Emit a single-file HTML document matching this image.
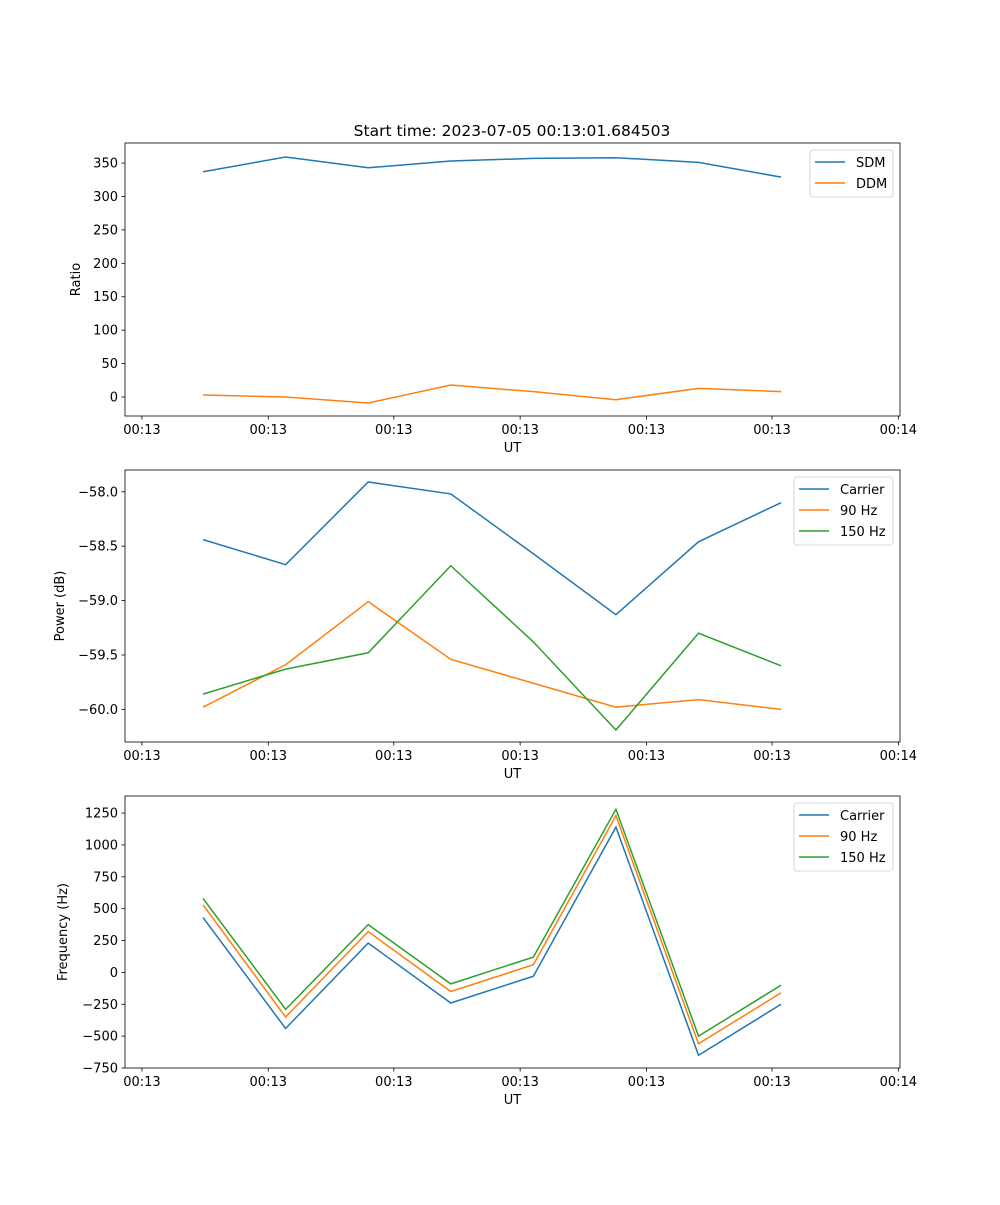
<!DOCTYPE html>
<html><head><meta charset="utf-8"><style>
body{margin:0;background:#fff}
svg text{font-family:"DejaVu Sans","Liberation Sans",sans-serif;font-size:13px;fill:#000}
</style></head><body>
<svg id="c" width="1000" height="1200" xmlns="http://www.w3.org/2000/svg">
<text x="512" y="136" text-anchor="middle" style="font-size:15.5px">Start time: 2023-07-05 00:13:01.684503</text>
</svg>
<script>
const pointIdx=[0,1,2,3,4,5,6,7];
const xTickPos=[-0.74,0.79,2.31,3.84,5.37,6.89,8.42];
const xTickLabels=["00:13","00:13","00:13","00:13","00:13","00:13","00:14"];
const sdm=[337,359,343,353,357,358,351,329];
const ddm=[3,0,-9,18,8,-4,13,8];
const powCarrier=[-58.44,-58.67,-57.91,-58.02,-58.57,-59.13,-58.46,-58.10];
const pow90=[-59.98,-59.59,-59.01,-59.54,-59.76,-59.98,-59.91,-60.00];
const pow150=[-59.86,-59.63,-59.48,-58.68,-59.38,-60.19,-59.30,-59.60];
const freqCarrier=[430,-440,230,-240,-30,1140,-650,-250];
const freq90=[530,-350,320,-150,60,1230,-560,-160];
const freq150=[580,-290,375,-90,120,1280,-500,-100];
const ticks1=[0,50,100,150,200,250,300,350];
const ticks2=[-60.0,-59.5,-59.0,-58.5,-58.0];
const ticks3=[-750,-500,-250,0,250,500,750,1000,1250];

const NS="http://www.w3.org/2000/svg";
const svg=document.getElementById('c');
function mk(tag,attrs,parent){const e=document.createElementNS(NS,tag);for(const k in attrs)e.setAttribute(k,attrs[k]);(parent||svg).appendChild(e);return e;}
const C=["#1f77b4","#ff7f0e","#2ca02c"];
const L=125,R=900,xmin=-0.945,xmax=8.44;
const xs=v=>L+(v-xmin)/(xmax-xmin)*(R-L);
function panel(name,top,bot,ymin,ymax,yt,fmt,ylabel,series,names,legW){
  const g=mk('g',{});
  
  
  const ys=v=>bot-(v-ymin)/(ymax-ymin)*(bot-top);
  series.forEach((s,k)=>{
    const p=mk('polyline',{points:s.map((v,i)=>xs(pointIdx[i])+','+ys(v)).join(' '),fill:'none',stroke:C[k],'stroke-width':1.5},g);
    
    
  });
  const fr=mk('rect',{x:L,y:top,width:R-L,height:bot-top,fill:'none',stroke:'#000','stroke-width':0.8},g);
  
  
  xTickPos.forEach((t,i)=>{const x=xs(t);mk('line',{x1:x,x2:x,y1:bot,y2:bot+3.5,stroke:'#000','stroke-width':0.8},g);
    const tx=mk('text',{x:x,y:bot+18,'text-anchor':'middle'},g);tx.textContent=xTickLabels[i];
    
    });
  yt.forEach(t=>{const y=ys(t);mk('line',{x1:L-3.5,x2:L,y1:y,y2:y,stroke:'#000','stroke-width':0.8},g);
    const tx=mk('text',{x:L-7,y:y+4.5,'text-anchor':'end'},g);tx.textContent=fmt(t);
    
    });
  const xl=mk('text',{x:(L+R)/2,y:bot+36,'text-anchor':'middle'},g);xl.textContent='UT';
  
  
  const cy=(top+bot)/2;
  const lx=ylabel=='Ratio'?80:(ylabel=='Power (dB)'?64:67);
  const yl=mk('text',{x:lx,y:cy,'text-anchor':'middle',transform:'rotate(-90 '+lx+' '+cy+')'},g);yl.textContent=ylabel;
  
  
  const lg=mk('g',{},g);
  
  
  const bx=R-7-legW,by=top+7;
  mk('rect',{x:bx,y:by,width:legW,height:names.length*21+5,rx:3,fill:'#fff',stroke:'#ccc','stroke-width':0.8},lg);
  names.forEach((n,k)=>{const y=by+12+k*21;
    mk('line',{x1:bx+5,x2:bx+35,y1:y,y2:y,stroke:C[k],'stroke-width':1.5},lg);
    const t=mk('text',{x:bx+46,y:y+5},lg);t.textContent=n;
    
    });
}
panel('ratio',143,416,-28.4,380,ticks1,v=>String(v),'Ratio',[sdm,ddm],['SDM','DDM'],83);
panel('power',470,742,-60.30,-57.80,ticks2,v=>v.toFixed(1).replace('-','\u2212'),'Power (dB)',[powCarrier,pow90,pow150],['Carrier','90 Hz','150 Hz'],99);
panel('frequency',796,1068,-750,1384,ticks3,v=>String(v).replace('-','\u2212'),'Frequency (Hz)',[freqCarrier,freq90,freq150],['Carrier','90 Hz','150 Hz'],99);
</script>
</body></html>
